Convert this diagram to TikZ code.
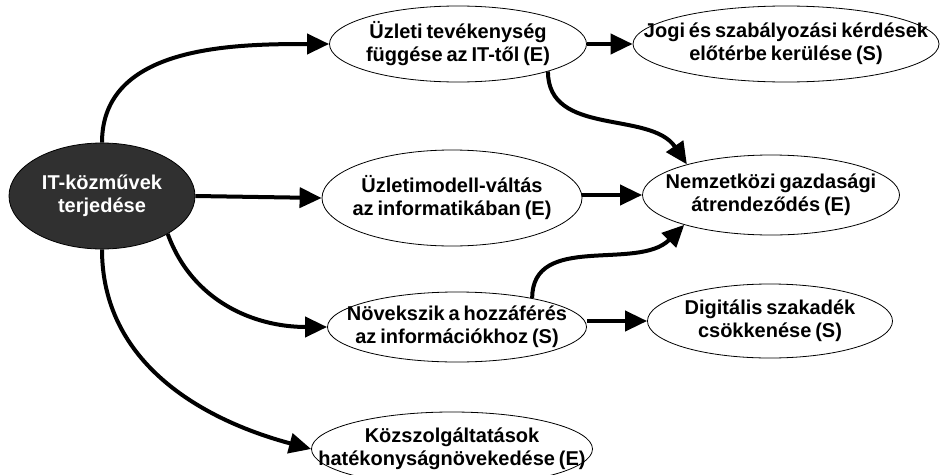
\documentclass[tikz,border=0pt]{standalone}
\usepackage{fontspec}
\setmainfont{Liberation Sans}[WordSpace=0.7]
\usetikzlibrary{shapes.geometric,arrows.meta}
\definecolor{darkfill}{HTML}{303030}
\tikzset{
  bubble/.style={ellipse, draw=black, line width=0.8pt, fill=white, inner sep=0pt},
  caption/.style={align=center, inner sep=0pt, font=\fontsize{20}{23}\selectfont\bfseries},
  rootbubble/.style={bubble, fill=darkfill},
  link/.style={line width=4pt, -{Triangle[length=22pt,width=20pt]}}
}
\begin{document}
\begin{tikzpicture}[x=1pt,y=-1pt]
  \useasboundingbox (0,0) rectangle (942,474);
  \clip (0,0) rectangle (942,474);

  % ellipses, each with its caption set as a centred label
  \node[rootbubble, minimum width=186pt, minimum height=106pt,
    label={[caption, text=white]center:IT-közművek\\terjedése}] (it) at (102,196) {};
  \node[bubble, minimum width=257pt, minimum height=76pt,
    label={[caption]center:Üzleti tevékenység\\függése az IT-től (E)}] (uz) at (458,44) {};
  \node[bubble, minimum width=306pt, minimum height=76pt,
    label={[caption]center:Jogi és szabályozási kérdések\\előtérbe kerülése (S)}] (jg) at (786,44) {};
  \node[bubble, minimum width=260pt, minimum height=96pt,
    label={[caption]center:Üzletimodell-váltás\\az informatikában (E)}] (mm) at (452,198) {};
  \node[bubble, minimum width=257pt, minimum height=80pt,
    label={[caption]center:Nemzetközi gazdasági\\átrendeződés (E)}] (nk) at (771,195) {};
  \node[bubble, minimum width=259pt, minimum height=70pt,
    label={[caption]center:Növekszik a hozzáférés\\az információkhoz (S)}] (nv) at (457,327) {};
  \node[bubble, minimum width=245pt, minimum height=74pt,
    label={[caption]center:Digitális szakadék\\csökkenése (S)}] (dg) at (770,321) {};
  \node[bubble, minimum width=281pt, minimum height=74pt,
    label={[caption]center:Közszolgáltatások\\hatékonyságnövekedése (E)}] (kz) at (452,449) {};

  % connectors
  \draw[link] (it.north) to[out=90,in=180] (uz.west);
  \draw[link] (it.east) -- (mm.west);
  \draw[link] (it.-30) to[out=-70,in=180] (nv.west);
  \draw[link] (it.south) to[out=-90,in=165] (kz.west);
  \draw[link] (uz.east) -- (jg.west);
  \draw[link] (uz.-17) to[out=-90,in=124] (nk.160);
  \draw[link] (nk.west -| mm.east) -- (nk.west);
  \draw[link] (nv.21) to[out=90,in=-135] (nk.-161);
  \draw[link] (dg.west -| nv.east) -- (dg.west);
\end{tikzpicture}
\end{document}
